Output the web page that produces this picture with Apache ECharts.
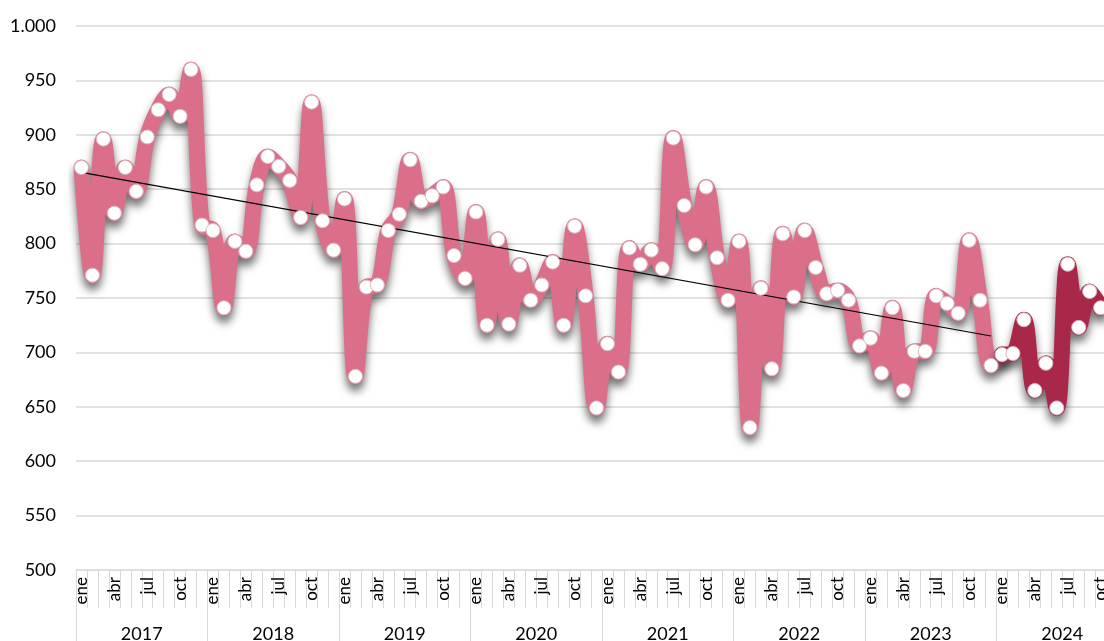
<!DOCTYPE html>
<html>
<head>
<meta charset="utf-8">
<script src="https://cdn.jsdelivr.net/npm/echarts@6/dist/echarts.min.js"></script>
<style>
html,body{margin:0;padding:0;background:#fff;overflow:hidden;}
#chart{width:1104px;height:641px;}
</style>
</head>
<body>
<div id="chart"></div>
<script>
const years = ['2017','2018','2019','2020','2021','2022','2023','2024'];
const monthNames = ['ene','feb','mar','abr','may','jun','jul','ago','sep','oct','nov','dic'];
const yTicks = [500,550,600,650,700,750,800,850,900,950,1000];

const v2017 = [870,771,896,828,870,848,898,923,937,917,960,817];
const v2018 = [812,741,802,793,854,880,871,858,824,930,821,794];
const v2019 = [841,678,760,762,812,827,877,839,844,852,789,768];
const v2020 = [829,725,804,726,780,748,762,783,725,816,752,649];
const v2021 = [708,682,796,781,794,777,897,835,799,852,787,748];
const v2022 = [802,631,759,685,809,751,812,778,754,757,748,706];
const v2023 = [713,681,741,665,701,701,752,745,736,803,748,688];
const v2024 = [698,699,730,665,690,649,781,723,756,741];

const allYears = [v2017,v2018,v2019,v2020,v2021,v2022,v2023];
const histValues = [].concat(...allYears);          // ene 2017 .. dic 2023
const allValues = histValues.concat(v2024);

const categories = [];
years.forEach(y => monthNames.forEach(m => categories.push(m + ' ' + y)));

const nHist = histValues.length;
const pinkData = categories.map((c, i) => i <= nHist ? (allValues[i] ?? null) : null);
const darkData = categories.map((c, i) => i >= nHist && i < allValues.length ? allValues[i] : null);
const pointData = categories.map((c, i) => i < allValues.length ? allValues[i] : null);

// least-squares trend over historical period
let sx=0, sy=0, sxx=0, sxy=0;
histValues.forEach((v,i)=>{sx+=i;sy+=v;sxx+=i*i;sxy+=i*v;});
const slope = (nHist*sxy - sx*sy)/(nHist*sxx - sx*sx);
const icpt = (sy - slope*sx)/nHist;
const trendData = [[categories[0], icpt], [categories[nHist-1], icpt + slope*(nHist-1)]];

const fmt = v => v >= 1000 ? Math.floor(v/1000) + '.' + String(v%1000).padStart(3,'0') : String(v);
const FONT = 'Lato';

const chart = echarts.init(document.getElementById('chart'), null, {renderer:'canvas'});
chart.setOption({
  animation:false,
  backgroundColor:'#fff',
  grid:{left:76, width:1052, top:26, height:544, containLabel:false, outerBoundsMode:'none'},
  xAxis:[{
    type:'category', data:categories, boundaryGap:true, position:'bottom',
    axisLine:{show:true, lineStyle:{color:'#d9d9d9', width:1}},
    axisTick:{show:true, interval:0, length:38, lineStyle:{color:'#d9d9d9', width:1}},
    axisLabel:{interval:(i)=> i%3===0, rotate:90, margin:7, color:'#000', fontFamily:FONT, fontSize:17,
      formatter:(v)=> v.split(' ')[0]},
    splitLine:{show:false}
  },{
    type:'category', data:years, boundaryGap:true, position:'bottom',
    axisLine:{show:false},
    axisTick:{show:true, interval:0, length:80, lineStyle:{color:'#d9d9d9', width:1}},
    axisLabel:{interval:0, margin:55, color:'#000', fontFamily:FONT, fontSize:18},
    splitLine:{show:false}
  }],
  yAxis:{
    type:'value', min:yTicks[0], max:yTicks[yTicks.length-1], interval:50,
    axisLine:{show:false}, axisTick:{show:false},
    axisLabel:{color:'#000', fontFamily:FONT, fontSize:18, margin:20, formatter:fmt},
    splitLine:{lineStyle:{color:'#d9d9d9', width:1.5}}
  },
  series:[
    {type:'line', data:pinkData, smooth:0.35, showSymbol:false, symbol:'none', z:2,
     lineStyle:{color:'#DB6F8A', width:16, cap:'round', join:'round',
       shadowColor:'rgba(0,0,0,0.55)', shadowBlur:8, shadowOffsetY:7}},
    {type:'line', data:darkData, smooth:0.35, showSymbol:false, symbol:'none', z:3,
     lineStyle:{color:'#A92849', width:16, cap:'round', join:'round',
       shadowColor:'rgba(0,0,0,0.55)', shadowBlur:8, shadowOffsetY:7}},
    {type:'line', data:trendData, symbol:'none', z:4,
     lineStyle:{color:'#000', width:1.2}},
    {type:'scatter', data:pointData, symbol:'circle', symbolSize:14, z:5,
     itemStyle:{color:'#fff', borderColor:'#d8b9c1', borderWidth:1, opacity:1}}
  ]
});
</script>
</body>
</html>
